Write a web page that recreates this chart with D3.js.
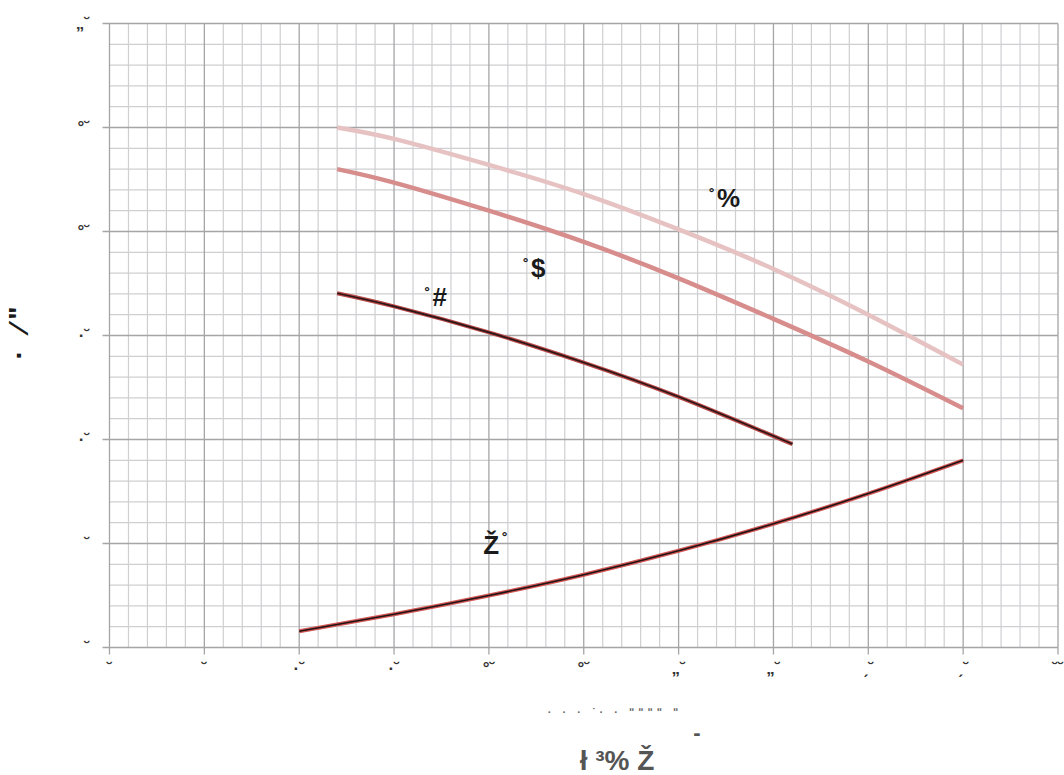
<!DOCTYPE html>
<html>
<head>
<meta charset="utf-8">
<script src="https://cdn.jsdelivr.net/npm/d3@7"></script>
<style>
  body { margin: 0; background: #fff; }
  svg { display: block; font-family: "Liberation Sans", "DejaVu Sans", sans-serif; }
</style>
</head>
<body>
<div id="chart"></div>
<script>
// axis ticks and their (garbled) labels as they appear in the picture
const xTicks = [0, 5, 10, 15, 20, 25, 30, 35, 40, 45, 50];
const xTickLabels = ["˘", "˘", "·˘", "·˘", "°˘", "°˘", "„˘", "„˘", "ˏ˘", "ˏ˘", "˘˘"];
const yTicks = [0, 5, 10, 15, 20, 25, 30];
const yTickLabels = ["˘", "˘", "·˘", "·˘", "°˘", "°˘", "„˘"];

// curves
const xPink = [12, 15, 20, 25, 30, 35, 40, 45];
const curveLight = [25.0, 24.45, 23.2, 21.8, 20.1, 18.2, 16.0, 13.6];
const curveMid = [23.0, 22.35, 21.0, 19.5, 17.75, 15.8, 13.75, 11.5];
const xDark = [12, 15, 20, 25, 30, 36];
const curveDark = [17.03, 16.4, 15.15, 13.7, 12.05, 9.78];
const xBottom = [10, 15, 20, 25, 30, 35, 40, 45];
const curveBottom = [0.78, 1.6, 2.5, 3.5, 4.65, 5.95, 7.4, 9.0];

// labels on the curves
const curveLabels = [
  { ring: "˚", main: "%", x: 31.6, y: 21.2, ringFirst: true },
  { ring: "˚", main: "$", x: 21.8, y: 17.8, ringFirst: true },
  { ring: "˚", main: "#", x: 16.6, y: 16.4, ringFirst: true },
  { ring: "˚", main: "Ž", x: 19.7, y: 4.5, ringFirst: false }
];

const W = 1064, H = 775;
const x = d3.scaleLinear().domain([0, 50]).range([109.5, 1058]);
const y = d3.scaleLinear().domain([0, 30]).range([647.5, 23.5]);

const svg = d3.select("#chart").append("svg")
  .attr("width", W).attr("height", H);

// minor grid
const minor = d3.range(0, 51, 1).filter(d => d % 5 !== 0);
const minorY = d3.range(0, 31, 1).filter(d => d % 5 !== 0);
const grid = svg.append("g");
grid.selectAll(".vmin").data(minor).enter().append("line")
  .attr("x1", d => x(d)).attr("x2", d => x(d))
  .attr("y1", y(0)).attr("y2", y(30))
  .attr("stroke", "#cfcfd2").attr("stroke-width", 1.2);
grid.selectAll(".hmin").data(minorY).enter().append("line")
  .attr("x1", x(0)).attr("x2", x(50))
  .attr("y1", d => y(d)).attr("y2", d => y(d))
  .attr("stroke", "#cfcfd2").attr("stroke-width", 1.2);

// major grid + ticks
grid.selectAll(".vmaj").data(xTicks).enter().append("line")
  .attr("x1", d => x(d)).attr("x2", d => x(d))
  .attr("y1", y(0) + 7).attr("y2", y(30))
  .attr("stroke", "#a5a5a8").attr("stroke-width", 1.3);
grid.selectAll(".hmaj").data(yTicks).enter().append("line")
  .attr("x1", x(0) - 7).attr("x2", x(50))
  .attr("y1", d => y(d)).attr("y2", d => y(d))
  .attr("stroke", "#a5a5a8").attr("stroke-width", 1.3);

// tick labels
svg.append("g").selectAll("text").data(xTicks).enter().append("text")
  .attr("x", d => x(d)).attr("y", 674)
  .attr("text-anchor", "middle")
  .style("font-size", "17px").style("font-weight", "bold").attr("fill", "#333")
  .text((d, i) => xTickLabels[i]);
svg.append("g").selectAll("text").data(yTicks).enter().append("text")
  .attr("x", 90).attr("y", d => y(d) + 5)
  .attr("text-anchor", "end")
  .style("font-size", "17px").style("font-weight", "bold").attr("fill", "#333")
  .text((d, i) => yTickLabels[i]);

// curves
const line = d3.line().x(d => x(d[0])).y(d => y(d[1])).curve(d3.curveNatural);
const pairs = (xs, ys) => xs.map((v, i) => [v, ys[i]]);

svg.append("path").attr("d", line(pairs(xPink, curveLight)))
  .attr("fill", "none").attr("stroke", "#e6c2c2").attr("stroke-width", 4.5);
svg.append("path").attr("d", line(pairs(xPink, curveMid)))
  .attr("fill", "none").attr("stroke", "#d88d8d").attr("stroke-width", 4.5);
svg.append("path").attr("d", line(pairs(xDark, curveDark)))
  .attr("fill", "none").attr("stroke", "#b84848").attr("stroke-width", 4);
svg.append("path").attr("d", line(pairs(xDark, curveDark)))
  .attr("fill", "none").attr("stroke", "#2a1616").attr("stroke-width", 1.6);
svg.append("path").attr("d", line(pairs(xBottom, curveBottom)))
  .attr("fill", "none").attr("stroke", "#d45555").attr("stroke-width", 4);
svg.append("path").attr("d", line(pairs(xBottom, curveBottom)))
  .attr("fill", "none").attr("stroke", "#1e1414").attr("stroke-width", 1.6);

// curve labels
curveLabels.forEach(l => {
  const t = svg.append("text").attr("x", x(l.x)).attr("y", y(l.y))
    .attr("fill", "#1a1a1a").style("font-weight", "bold");
  if (l.ringFirst) {
    t.append("tspan").text(l.ring).style("font-size", "18px").attr("dy", -5);
    t.append("tspan").text(l.main).style("font-size", "26px").attr("dx", 2).attr("dy", 5);
  } else {
    t.append("tspan").text(l.main).style("font-size", "26px");
    t.append("tspan").text(l.ring).style("font-size", "18px").attr("dx", 3).attr("dy", -8);
  }
});

// axis titles
svg.append("text")
  .attr("transform", "translate(28,330) rotate(-90)")
  .attr("text-anchor", "middle")
  .style("font-size", "28px").style("font-weight", "bold").attr("fill", "#1a1a1a")
  .style("letter-spacing", "6px")
  .text("· ⁄\"");

svg.append("text").attr("x", 615).attr("y", 716)
  .attr("text-anchor", "middle")
  .style("font-size", "11px").style("font-weight", "bold").attr("fill", "#666")
  .style("letter-spacing", "4px")
  .text("·  ·  ·  ˙·  ·  ʺʺʺʺ ʺ");
svg.append("text").attr("x", 697).attr("y", 740)
  .attr("text-anchor", "middle")
  .style("font-size", "22px").style("font-weight", "bold").attr("fill", "#555")
  .text("-");
svg.append("text").attr("x", 617).attr("y", 770)
  .attr("text-anchor", "middle")
  .style("font-size", "28px").style("font-weight", "bold").attr("fill", "#555")
  .text("ł ³% Ž");
</script>
</body>
</html>
